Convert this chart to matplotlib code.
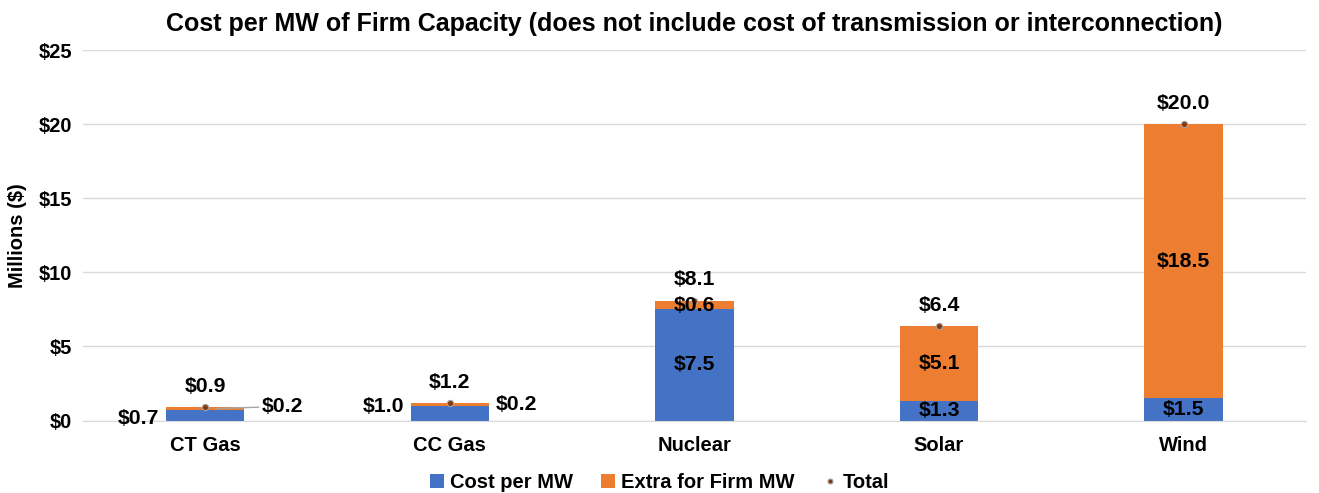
import numpy as np
import matplotlib
matplotlib.use('Agg')
import matplotlib.pyplot as plt

plt.rcParams['font.family'] = ['Liberation Sans', 'DejaVu Sans']
plt.rcParams['font.weight'] = 'bold'

# data
categories = ['CT Gas', 'CC Gas', 'Nuclear', 'Solar', 'Wind']
cost_per_mw = [0.7, 1.0, 7.5, 1.3, 1.5]
extra_firm = [0.2, 0.2, 0.6, 5.1, 18.5]
total = [0.9, 1.2, 8.1, 6.4, 20.0]
y_ticks = [0, 5, 10, 15, 20, 25]

blue = '#4472C4'
orange = '#ED7D31'
fs = 14.5
lfs = 15.3

fig = plt.figure(figsize=(13.19, 4.93), dpi=100)
ax = fig.add_axes([0.063, 0.147, 0.927, 0.751])

x = np.arange(len(categories))
w = 0.32
b1 = ax.bar(x, cost_per_mw, w, color=blue, label='Cost per MW', zorder=2)
b2 = ax.bar(x, extra_firm, w, bottom=cost_per_mw, color=orange, label='Extra for Firm MW', zorder=2)
p, = ax.plot(x, total, 'o', ls='none', color='#843C0C', mec='#A5A5A5', mew=0.8, ms=4.5,
             label='Total', zorder=3)

for i in range(len(categories)):
    c, e, t = cost_per_mw[i], extra_firm[i], total[i]
    ax.annotate('$%.1f' % t, (i, t), xytext=(0, 8), textcoords='offset points',
                ha='center', va='bottom', fontsize=lfs, fontweight='bold')
    if i < 2:
        # small bars: labels outside
        ax.annotate('$%.1f' % c, (i - w / 2, c / 2), xytext=(-5, -2 if i == 0 else 5),
                    textcoords='offset points', ha='right', va='center',
                    fontsize=lfs, fontweight='bold')
        if i == 0:
            ax.annotate('$%.1f' % e, (i + 0.02, c + e / 2), xytext=(i + 0.23, c + e + 0.05),
                        textcoords='data', ha='left', va='center', fontsize=lfs,
                        fontweight='bold',
                        arrowprops=dict(arrowstyle='-', color='#A5A5A5', lw=1,
                                        shrinkA=0, shrinkB=4))
        else:
            ax.annotate('$%.1f' % e, (i + w / 2, c + e / 2), xytext=(5, 0),
                        textcoords='offset points', ha='left', va='center',
                        fontsize=lfs, fontweight='bold')
    else:
        ax.text(i, c / 2, '$%.1f' % c, ha='center', va='center', fontsize=lfs,
                fontweight='bold', zorder=4)
        ax.text(i, c + e / 2, '$%.1f' % e, ha='center', va='center', fontsize=lfs,
                fontweight='bold', zorder=4)

ax.set_xlim(-0.5, len(categories) - 0.5)
ax.set_ylim(0, 25)
ax.set_yticks(y_ticks)
ax.set_yticklabels(['$%d' % v for v in y_ticks], fontsize=fs, fontweight='bold')
ax.set_xticks(x)
ax.set_xticklabels(categories, fontsize=fs, fontweight='bold')
ax.tick_params(axis='y', length=0, pad=8)
ax.tick_params(axis='x', length=0, pad=11)
ax.grid(axis='y', color='#D9D9D9', lw=1, zorder=0)
for s in ['top', 'right', 'left']:
    ax.spines[s].set_visible(False)
ax.spines['bottom'].set_color('#D9D9D9')
ax.set_ylabel('Millions ($)', fontsize=fs, fontweight='bold', labelpad=8)
ax.set_title('Cost per MW of Firm Capacity (does not include cost of transmission or interconnection)',
             fontsize=18, fontweight='bold', pad=14)

fig.legend([b1, b2, p], ['Cost per MW', 'Extra for Firm MW', 'Total'],
           loc='lower center', bbox_to_anchor=(0.5, -0.035), ncol=3, frameon=False,
           fontsize=fs, handlelength=0.7, handleheight=0.7, handletextpad=0.3,
           columnspacing=1.4, markerscale=0.8)

fig.savefig('out.png', dpi=100)
